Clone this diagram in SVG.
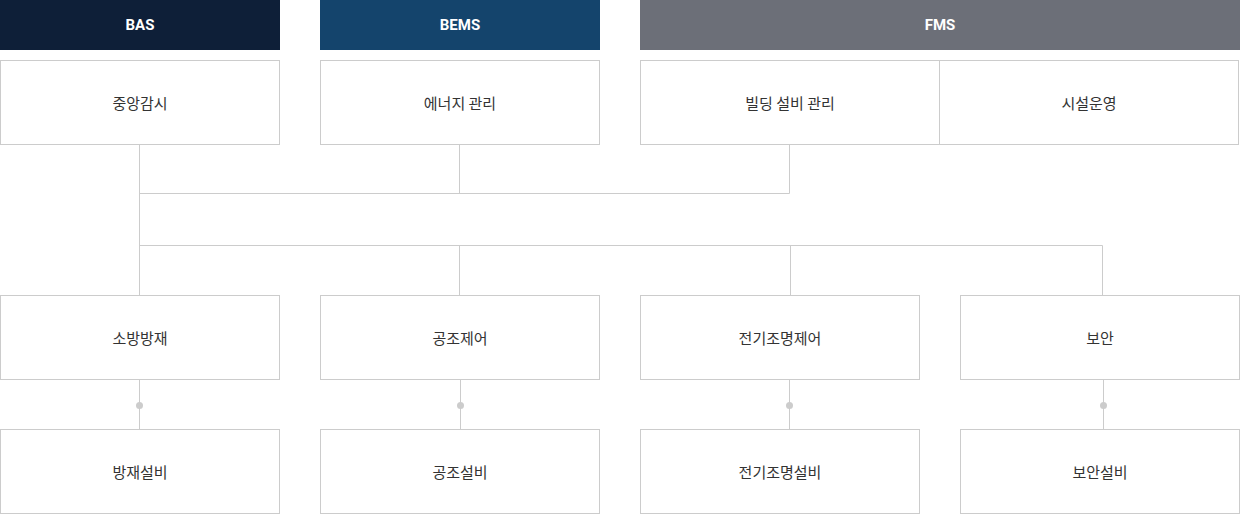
<svg xmlns="http://www.w3.org/2000/svg" width="1240" height="514" viewBox="0 0 1240 514">
<style>
.hd text{font-family:Roboto,"Noto Sans CJK KR",sans-serif;font-size:15px;font-weight:700;fill:#fff;text-anchor:middle;dominant-baseline:central}
.bx rect{fill:#fff;stroke:#cccccc;stroke-width:1}
.bx text{font-family:"Noto Sans CJK KR","Noto Sans",sans-serif;font-size:15px;fill:#333;text-anchor:middle;dominant-baseline:central}
.cn line{stroke:#cccccc;stroke-width:1}
.cn circle{fill:#cccccc}
</style>
<rect width="1240" height="514" fill="#fff"/>
<g id="connectors" class="cn">
<line x1="139.5" y1="144" x2="139.5" y2="295"/>
<line x1="459.5" y1="144" x2="459.5" y2="193.5"/>
<line x1="789.5" y1="144" x2="789.5" y2="193.5"/>
<line x1="139.5" y1="193.5" x2="789.5" y2="193.5"/>
<line x1="139.5" y1="245.5" x2="1102.5" y2="245.5"/>
<line x1="459.5" y1="245.5" x2="459.5" y2="295"/>
<line x1="790.5" y1="245.5" x2="790.5" y2="295"/>
<line x1="1102.5" y1="245.5" x2="1102.5" y2="295"/>
<line x1="139.5" y1="379" x2="139.5" y2="429"/>
<line x1="460.5" y1="379" x2="460.5" y2="429"/>
<line x1="789.5" y1="379" x2="789.5" y2="429"/>
<line x1="1103.5" y1="379" x2="1103.5" y2="429"/>
<circle cx="139.5" cy="405.5" r="3.5"/>
<circle cx="460.5" cy="405.5" r="3.5"/>
<circle cx="789.5" cy="405.5" r="3.5"/>
<circle cx="1103.5" cy="405.5" r="3.5"/>
</g>
<g id="bas" class="hd"><rect x="0" y="0" width="280" height="50" fill="#0e1f38"/><text x="140" y="25">BAS</text></g>
<g id="bems" class="hd"><rect x="320" y="0" width="280" height="50" fill="#14446c"/><text x="460" y="25">BEMS</text></g>
<g id="fms" class="hd"><rect x="640" y="0" width="600" height="50" fill="#6c6f78"/><text x="940" y="25">FMS</text></g>
<g id="n-central" class="bx"><rect x="0.5" y="60.5" width="279" height="84"/><text x="140" y="102">중앙감시</text></g>
<g id="n-energy" class="bx"><rect x="320.5" y="60.5" width="279" height="84"/><text x="460" y="102">에너지 관리</text></g>
<g id="n-building" class="bx"><rect x="640.5" y="60.5" width="299" height="84"/><text x="790" y="102">빌딩 설비 관리</text></g>
<g id="n-facility" class="bx"><rect x="939.5" y="60.5" width="299" height="84"/><text x="1089" y="102">시설운영</text></g>
<g id="n-fire" class="bx"><rect x="0.5" y="295.5" width="279" height="84"/><text x="140" y="337">소방방재</text></g>
<g id="n-hvac" class="bx"><rect x="320.5" y="295.5" width="279" height="84"/><text x="460" y="337">공조제어</text></g>
<g id="n-light" class="bx"><rect x="640.5" y="295.5" width="279" height="84"/><text x="780" y="337">전기조명제어</text></g>
<g id="n-security" class="bx"><rect x="960.5" y="295.5" width="279" height="84"/><text x="1100" y="337">보안</text></g>
<g id="n-fire-eq" class="bx"><rect x="0.5" y="429.5" width="279" height="84"/><text x="140" y="471">방재설비</text></g>
<g id="n-hvac-eq" class="bx"><rect x="320.5" y="429.5" width="279" height="84"/><text x="460" y="471">공조설비</text></g>
<g id="n-light-eq" class="bx"><rect x="640.5" y="429.5" width="279" height="84"/><text x="780" y="471">전기조명설비</text></g>
<g id="n-security-eq" class="bx"><rect x="960.5" y="429.5" width="279" height="84"/><text x="1100" y="471">보안설비</text></g>
</svg>
